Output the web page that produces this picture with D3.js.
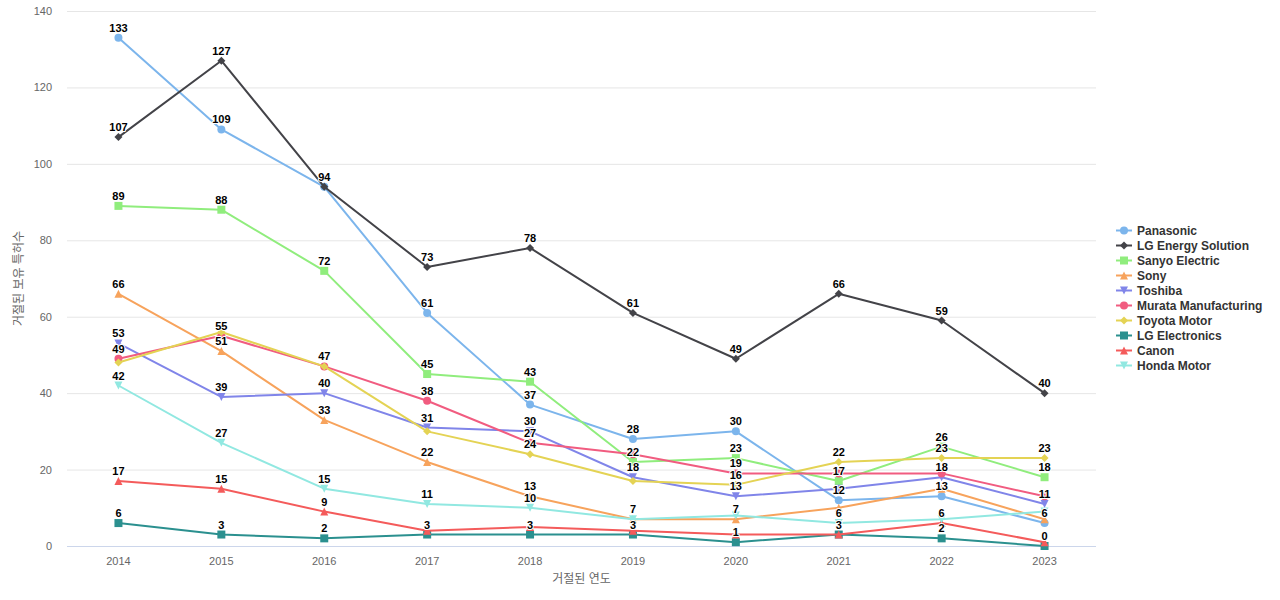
<!DOCTYPE html>
<html>
<head>
<meta charset="utf-8">
<script src="https://cdn.jsdelivr.net/npm/d3@7"></script>
<style>
    html, body { margin: 0; padding: 0; background: #fff; }
    svg { display: block; font-family: Helvetica, Arial, 'Liberation Sans', 'Noto Sans CJK KR', sans-serif; }
</style>
</head>
<body>
<svg id="chart" width="1280" height="600"></svg>
<script>
(function () {
    'use strict';

    // data
    var years = ['2014', '2015', '2016', '2017', '2018', '2019', '2020', '2021', '2022', '2023'];
    var yTicks = [0, 20, 40, 60, 80, 100, 120, 140];

    var panasonic = [133, 109, 94, 61, 37, 28, 30, 12, 13, 6];
    var lgEnergy = [107, 127, 94, 73, 78, 61, 49, 66, 59, 40];
    var sanyo = [89, 88, 72, 45, 43, 22, 23, 17, 26, 18];
    var sony = [66, 51, 33, 22, 13, 7, 7, 10, 15, 7];
    var toshiba = [53, 39, 40, 31, 30, 18, 13, 15, 18, 11];
    var murata = [49, 55, 47, 38, 27, 24, 19, 19, 19, 13];
    var toyota = [48, 56, 47, 30, 24, 17, 16, 22, 23, 23];
    var lgElec = [6, 3, 2, 3, 3, 3, 1, 3, 2, 0];
    var canon = [17, 15, 9, 4, 5, 4, 3, 3, 6, 1];
    var honda = [42, 27, 15, 11, 10, 7, 8, 6, 7, 9];

    var seriesNames = ['Panasonic', 'LG Energy Solution', 'Sanyo Electric', 'Sony', 'Toshiba',
        'Murata Manufacturing', 'Toyota Motor', 'LG Electronics', 'Canon', 'Honda Motor'];
    var seriesValues = [panasonic, lgEnergy, sanyo, sony, toshiba,
        murata, toyota, lgElec, canon, honda];

    // configuration
    var colors = ['#7cb5ec', '#434348', '#90ed7d', '#f7a35c', '#8085e9',
        '#f15c80', '#e4d354', '#2b908f', '#f45b5b', '#91e8e1'];
    var symbols = ['circle', 'diamond', 'square', 'triangle', 'triangle-down'];
    var plot = { left: 67, right: 1096, top: 11, bottom: 546 };

    var svg = d3.select('#chart');

    var x = d3.scaleBand()
        .domain(years)
        .range([plot.left, plot.right]);

    var y = d3.scaleLinear()
        .domain([0, 140])
        .range([plot.bottom, plot.top]);

    function cx(i) {
        return x(years[i]) + x.bandwidth() / 2;
    }

    // marker path centred on 0,0
    function markerPath(kind) {
        var r = 4;
        switch (kind) {
        case 'circle':
            return 'M' + (-r) + ',0a' + r + ',' + r + ' 0 1,0 ' + (2 * r) + ',0a' + r + ',' + r + ' 0 1,0 ' + (-2 * r) + ',0Z';
        case 'diamond':
            return 'M0,' + (-r) + 'L' + r + ',0L0,' + r + 'L' + (-r) + ',0Z';
        case 'square':
            return 'M' + (-r) + ',' + (-r) + 'h' + (2 * r) + 'v' + (2 * r) + 'h' + (-2 * r) + 'Z';
        case 'triangle':
            return 'M0,' + (-r) + 'L' + r + ',' + r + 'L' + (-r) + ',' + r + 'Z';
        default:
            return 'M' + (-r) + ',' + (-r) + 'L' + r + ',' + (-r) + 'L0,' + r + 'Z';
        }
    }

    // grid
    svg.append('g')
        .selectAll('line')
        .data(yTicks.filter(function (t) { return t > 0; }))
        .join('line')
        .attr('x1', plot.left)
        .attr('x2', plot.right)
        .attr('y1', function (d) { return y(d) + 0.5; })
        .attr('y2', function (d) { return y(d) + 0.5; })
        .attr('stroke', '#e6e6e6');

    svg.append('line')
        .attr('x1', plot.left)
        .attr('x2', plot.right)
        .attr('y1', plot.bottom + 0.5)
        .attr('y2', plot.bottom + 0.5)
        .attr('stroke', '#ccd6eb');

    // y axis labels
    svg.append('g')
        .selectAll('text')
        .data(yTicks)
        .join('text')
        .attr('x', plot.left - 15)
        .attr('y', function (d) { return y(d) + 4; })
        .attr('text-anchor', 'end')
        .attr('font-size', 11)
        .attr('fill', '#666')
        .text(function (d) { return d; });

    // x axis labels
    svg.append('g')
        .selectAll('text')
        .data(years)
        .join('text')
        .attr('x', function (d) { return x(d) + x.bandwidth() / 2; })
        .attr('y', plot.bottom + 19)
        .attr('text-anchor', 'middle')
        .attr('font-size', 11)
        .attr('fill', '#666')
        .text(function (d) { return d; });

    // axis titles
    svg.append('text')
        .attr('x', (plot.left + plot.right) / 2)
        .attr('y', plot.bottom + 37)
        .attr('text-anchor', 'middle')
        .attr('font-size', 12)
        .attr('fill', '#666')
        .text('거절된 연도');

    svg.append('text')
        .attr('transform', 'translate(23,' + ((plot.top + plot.bottom) / 2) + ') rotate(-90)')
        .attr('text-anchor', 'middle')
        .attr('font-size', 12)
        .attr('fill', '#666')
        .text('거절된 보유 특허수');

    // series lines and markers
    var line = d3.line()
        .x(function (d, i) { return cx(i); })
        .y(function (d) { return y(d); });

    var seriesG = svg.append('g');

    seriesValues.forEach(function (vals, s) {
        var g = seriesG.append('g');
        g.append('path')
            .attr('d', line(vals))
            .attr('fill', 'none')
            .attr('stroke', colors[s])
            .attr('stroke-width', 2)
            .attr('stroke-linejoin', 'round');

        g.selectAll('path.marker')
            .data(vals)
            .join('path')
            .attr('class', 'marker')
            .attr('transform', function (d, i) { return 'translate(' + cx(i) + ',' + y(d) + ')'; })
            .attr('d', markerPath(symbols[s % symbols.length]))
            .attr('fill', colors[s]);
    });

    // data labels, hiding the ones that collide with earlier ones
    var labelG = svg.append('g');
    var shown = [];

    function overlaps(b) {
        return shown.some(function (o) {
            return !(b.x2 <= o.x1 || b.x1 >= o.x2 || b.y2 <= o.y1 || b.y1 >= o.y2);
        });
    }

    seriesValues.forEach(function (vals) {
        vals.forEach(function (v, i) {
            var px = cx(i),
                py = y(v) - 6,
                t = labelG.append('text')
                    .attr('x', px)
                    .attr('y', py)
                    .attr('text-anchor', 'middle')
                    .attr('font-size', 11)
                    .attr('font-weight', 'bold')
                    .attr('fill', '#000')
                    .attr('stroke', '#fff')
                    .attr('stroke-width', 2)
                    .attr('stroke-linejoin', 'round')
                    .attr('paint-order', 'stroke')
                    .text(v),
                w = t.node().getComputedTextLength(),
                box = { x1: px - w / 2, x2: px + w / 2, y1: py - 9, y2: py + 2 };

            if (overlaps(box)) {
                t.remove();
            } else {
                shown.push(box);
            }
        });
    });

    // legend
    var legend = svg.append('g')
        .attr('transform', 'translate(1116,230)');

    var item = legend.selectAll('g')
        .data(seriesNames)
        .join('g')
        .attr('transform', function (d, i) { return 'translate(0,' + (i * 15) + ')'; });

    item.append('line')
        .attr('x1', 0)
        .attr('x2', 16)
        .attr('y1', 0.5)
        .attr('y2', 0.5)
        .attr('stroke', function (d, i) { return colors[i]; })
        .attr('stroke-width', 2);

    item.append('path')
        .attr('transform', 'translate(8,0.5)')
        .attr('d', function (d, i) { return markerPath(symbols[i % symbols.length]); })
        .attr('fill', function (d, i) { return colors[i]; });

    item.append('text')
        .attr('x', 21)
        .attr('y', 5)
        .attr('font-size', 12)
        .attr('font-weight', 'bold')
        .attr('fill', '#333')
        .text(function (d) { return d; });
}());
</script>
</body>
</html>
